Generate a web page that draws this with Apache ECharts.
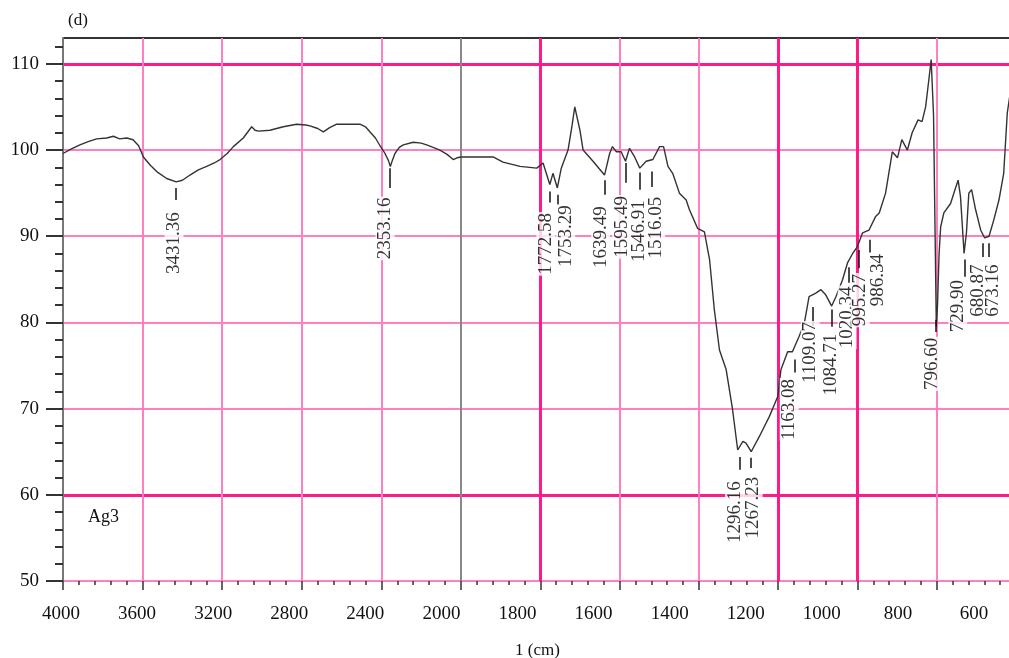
<!DOCTYPE html>
<html>
<head>
<meta charset="utf-8">
<script src="https://cdn.jsdelivr.net/npm/echarts@6/dist/echarts.min.js"></script>
<style>
  html, body { margin: 0; padding: 0; background: #fff; }
  #chart { width: 1009px; height: 658px; }
</style>
</head>
<body>
<div id="chart"></div>
<script>
// spectrum, 4000-2000 cm-1 part (compressed scale)
const leftWn = [4000, 3960, 3915, 3870, 3831, 3780, 3747, 3715, 3680, 3648, 3620, 3596, 3560, 3529, 3479, 3431, 3400, 3362, 3320, 3278, 3240, 3211, 3175, 3144, 3094, 3052, 3035, 3018, 2960, 2893, 2826, 2780, 2759, 2720, 2692, 2660, 2625, 2560, 2508, 2480, 2457, 2430, 2407, 2382, 2365, 2355, 2345, 2332, 2310, 2290, 2240, 2200, 2173, 2140, 2106, 2070, 2039, 2020, 2000];
const leftT = [99.6, 100.1, 100.6, 101.0, 101.3, 101.4, 101.6, 101.3, 101.4, 101.2, 100.5, 99.2, 98.2, 97.5, 96.7, 96.3, 96.5, 97.1, 97.7, 98.1, 98.5, 98.9, 99.6, 100.4, 101.4, 102.7, 102.3, 102.2, 102.3, 102.7, 103.0, 102.9, 102.8, 102.5, 102.1, 102.6, 103.0, 103.0, 103.0, 102.7, 102.1, 101.4, 100.5, 99.6, 98.8, 98.1, 98.8, 99.6, 100.3, 100.6, 100.9, 100.8, 100.6, 100.3, 100.0, 99.5, 98.9, 99.1, 99.2];

// spectrum, 2000-600 cm-1 part
const rightWn = [2000, 1960, 1919, 1894, 1851, 1809, 1793, 1776, 1768, 1757, 1747, 1730, 1720, 1713, 1700, 1692, 1667, 1638, 1625, 1618, 1608, 1596, 1585, 1575, 1562, 1549, 1533, 1516, 1499, 1489, 1478, 1466, 1449, 1432, 1424, 1403, 1386, 1373, 1361, 1348, 1331, 1315, 1302, 1289, 1281, 1268, 1247, 1222, 1201, 1193, 1176, 1164, 1147, 1134, 1122, 1105, 1092, 1080, 1065, 1054, 1038, 1025, 1012, 1000, 987, 971, 954, 945, 929, 912, 899, 888, 874, 862, 847, 837, 828, 820, 814, 808, 804, 801, 798, 794, 790, 782, 765, 754, 746, 740, 731, 725, 719, 712, 702, 689, 679, 668, 656, 643, 631, 622, 615];
const rightT = [99.2, 99.2, 99.2, 98.6, 98.1, 97.9, 98.5, 96.0, 97.3, 95.6, 97.9, 100.0, 102.8, 105.0, 102.3, 100.0, 98.7, 97.1, 99.6, 100.4, 99.8, 99.8, 98.7, 100.2, 99.2, 97.9, 98.7, 98.9, 100.4, 100.4, 98.1, 97.3, 95.0, 94.2, 93.1, 90.9, 90.5, 87.3, 81.5, 76.8, 74.5, 69.9, 65.2, 66.2, 66.0, 65.0, 66.8, 69.1, 71.4, 74.5, 76.6, 76.6, 78.4, 79.9, 83.0, 83.4, 83.8, 83.2, 81.9, 83.0, 84.9, 86.9, 88.0, 88.8, 90.4, 90.7, 92.3, 92.7, 95.0, 99.8, 99.1, 101.2, 100.0, 102.0, 103.5, 103.3, 105.0, 108.1, 110.5, 104.0, 90.0, 79.5, 82.0, 88.0, 91.1, 92.7, 93.8, 95.4, 96.5, 94.6, 88.0, 90.4, 95.0, 95.4, 93.1, 90.7, 89.8, 90.0, 91.9, 94.2, 97.3, 104.3, 106.5];

// bottom tick labels as printed (evenly spaced in the scan)
const tickLabels = ['4000', '3600', '3200', '2800', '2400', '2000', '1800', '1600', '1400', '1200', '1000', '800', '600'];
const yTicks = [50, 60, 70, 80, 90, 100, 110];
const yMinorTicks = [52, 54, 56, 58, 62, 64, 66, 68, 72, 74, 76, 78, 82, 84, 86, 88, 92, 94, 96, 98, 102, 104, 106, 108, 112];

// peak annotations
const peakLabels = ['3431.36', '2353.16', '1772.58', '1753.29', '1639.49', '1595.49', '1546.91', '1516.05', '1296.16', '1267.23', '1163.08', '1109.07', '1084.71', '1020.34', '995.27', '986.34', '796.60', '729.90', '680.87', '673.16'];
const peakTickX = [3432, 2357, 1776, 1756, 1638, 1585, 1549, 1519, 1298, 1268, 1159, 1112, 1064, 1021, 996, 968, 802, 729, 684, 669];
const peakTickTop = [95.6, 97.9, 95.2, 94.8, 96.5, 98.5, 97.4, 97.5, 64.4, 64.3, 75.7, 81.8, 81.5, 86.4, 88.4, 89.6, 80.3, 87.3, 89.2, 89.2];
const peakTickBottom = [94.2, 95.6, 93.9, 93.6, 94.8, 96.2, 95.4, 95.7, 62.9, 63.1, 74.2, 79.6, 79.5, 84.6, 86.3, 88.1, 78.9, 85.3, 87.6, 87.6];
const labelX = [3442, 2382, 1786, 1736, 1648, 1595, 1552, 1509, 1310, 1263, 1172, 1119, 1066, 1026, 993, 948, 812, 747, 696, 658];
const labelY = [89.2, 90.9, 89.1, 90.0, 89.9, 91.1, 90.6, 91.0, 58.0, 58.5, 69.9, 76.5, 75.1, 80.6, 82.6, 84.9, 75.2, 81.9, 83.7, 83.7];

const SERIF = 'Liberation Serif, Times New Roman, serif';
const THIN = '#ff80c0';
const THICK = '#ff1a8c';
const NONE = 'rgba(0,0,0,0)';

const chart = echarts.init(document.getElementById('chart'));

const peaksLeft = [], peaksRight = [], ticksLeft = [], ticksRight = [];
peakLabels.forEach((t, i) => {
  const pt = [labelX[i], labelY[i], t];
  const seg = [{ coord: [peakTickX[i], peakTickTop[i]] }, { coord: [peakTickX[i], peakTickBottom[i]] }];
  if (peakTickX[i] > 2000) { peaksLeft.push(pt); ticksLeft.push(seg); }
  else { peaksRight.push(pt); ticksRight.push(seg); }
});

function peakSeries(xi, yi, data, segs) {
  return {
    type: 'scatter', xAxisIndex: xi, yAxisIndex: yi, data: data,
    symbolSize: 1, itemStyle: { color: NONE }, silent: true, z: 5,
    label: {
      show: true, position: 'inside', rotate: 90,
      formatter: p => p.data[2],
      fontFamily: SERIF, fontSize: 19, color: '#000',
      backgroundColor: '#fff', padding: [0, 1]
    },
    markLine: {
      silent: true, symbol: ['none', 'none'], label: { show: false },
      lineStyle: { color: '#111', width: 1.5, type: 'solid' },
      data: segs
    }
  };
}

const hiddenY = (gi) => ({ gridIndex: gi, type: 'value', min: 50, max: 113, show: false });

const option = {
  animation: false,
  backgroundColor: '#fff',
  grid: [
    { left: 63, top: 38, width: 398, bottom: 77, outerBoundsMode: 'none' },
    { left: 461, top: 38, width: 555, bottom: 77, outerBoundsMode: 'none' },
    { left: 63, top: 38, width: 953, bottom: 77, outerBoundsMode: 'none' },
    { left: 61, top: 38, width: 913, bottom: 77, outerBoundsMode: 'none' }
  ],
  xAxis: [
    {
      gridIndex: 0, type: 'value', inverse: true, min: 2000, max: 4000, interval: 400,
      axisLine: { show: false },
      axisTick: { show: true, length: 9, lineStyle: { color: '#333', width: 1.5 } },
      minorTick: { show: true, splitNumber: 5, length: 4, lineStyle: { color: '#333', width: 1.5 } },
      axisLabel: { show: false },
      splitLine: { show: true, lineStyle: { width: 2, color: ['#888', THIN, THIN, THIN, THIN, NONE] } }
    },
    {
      gridIndex: 1, type: 'value', inverse: true, min: 600, max: 2000, interval: 200,
      axisLine: { show: false },
      axisTick: { show: true, length: 9, lineStyle: { color: '#333', width: 1.5 } },
      minorTick: { show: true, splitNumber: 5, length: 4, lineStyle: { color: '#333', width: 1.5 } },
      axisLabel: { show: false },
      splitLine: { show: true, lineStyle: { width: 2, color: [NONE, THIN, NONE, NONE, THIN, THIN, NONE, NONE] } }
    },
    {
      gridIndex: 1, type: 'value', inverse: true, min: 600, max: 2000, interval: 200,
      axisLine: { show: false }, axisTick: { show: false }, axisLabel: { show: false },
      splitLine: { show: true, lineStyle: { width: 3, color: [NONE, NONE, THICK, THICK, NONE, NONE, THICK, NONE] } }
    },
    { gridIndex: 2, type: 'value', min: 0, max: 1, show: false },
    {
      gridIndex: 3, type: 'category', data: tickLabels, boundaryGap: false,
      axisLine: { show: false }, axisTick: { show: false }, splitLine: { show: false },
      axisLabel: { interval: 0, margin: 24, fontFamily: SERIF, fontSize: 19, color: '#111' }
    }
  ],
  yAxis: [
    {
      gridIndex: 0, type: 'value', position: 'left', min: 50, max: 113,
      axisLine: { show: true, lineStyle: { color: '#777', width: 2 } },
      axisTick: { show: true, customValues: yTicks, length: 17, lineStyle: { color: '#333', width: 2 } },
      axisLabel: { customValues: yTicks, margin: 24, fontFamily: SERIF, fontSize: 19, color: '#111' },
      splitLine: { show: false }
    },
    {
      gridIndex: 0, type: 'value', position: 'left', offset: 0, min: 50, max: 113,
      axisLine: { show: false },
      axisTick: { show: true, customValues: yMinorTicks, length: 8, lineStyle: { color: '#333', width: 2 } },
      axisLabel: { show: false },
      splitLine: { show: false }
    },
    hiddenY(1),
    {
      gridIndex: 2, type: 'value', min: 50, max: 113, interval: 10,
      axisLine: { show: false }, axisTick: { show: false }, axisLabel: { show: false },
      splitLine: { show: true, lineStyle: { width: 2, color: [THIN, NONE, THIN, THIN, THIN, THIN, NONE, '#333'] } }
    },
    {
      gridIndex: 2, type: 'value', min: 50, max: 113, interval: 10,
      axisLine: { show: false }, axisTick: { show: false }, axisLabel: { show: false },
      splitLine: { show: true, lineStyle: { width: 3, color: [NONE, THICK, NONE, NONE, NONE, NONE, THICK, NONE] } }
    },
    hiddenY(3)
  ],
  graphic: [
    { type: 'text', left: 68, top: 12, style: { text: '(d)', font: '17px ' + SERIF, fill: '#111' } },
    { type: 'text', left: 88, top: 508, style: { text: 'Ag3', font: '18px ' + SERIF, fill: '#111' } },
    { type: 'text', left: 515, top: 642, style: { text: '1 (cm)', font: '17px ' + SERIF, fill: '#111' } }
  ],
  series: [
    {
      type: 'line', xAxisIndex: 0, yAxisIndex: 0, showSymbol: false, z: 3,
      data: leftWn.map((w, i) => [w, leftT[i]]),
      lineStyle: { color: '#333', width: 1.4 }
    },
    {
      type: 'line', xAxisIndex: 1, yAxisIndex: 2, showSymbol: false, z: 3,
      data: rightWn.map((w, i) => [w, rightT[i]]),
      lineStyle: { color: '#333', width: 1.4 }
    },
    peakSeries(0, 0, peaksLeft, ticksLeft),
    peakSeries(1, 2, peaksRight, ticksRight)
  ]
};

chart.setOption(option);
</script>
</body>
</html>
